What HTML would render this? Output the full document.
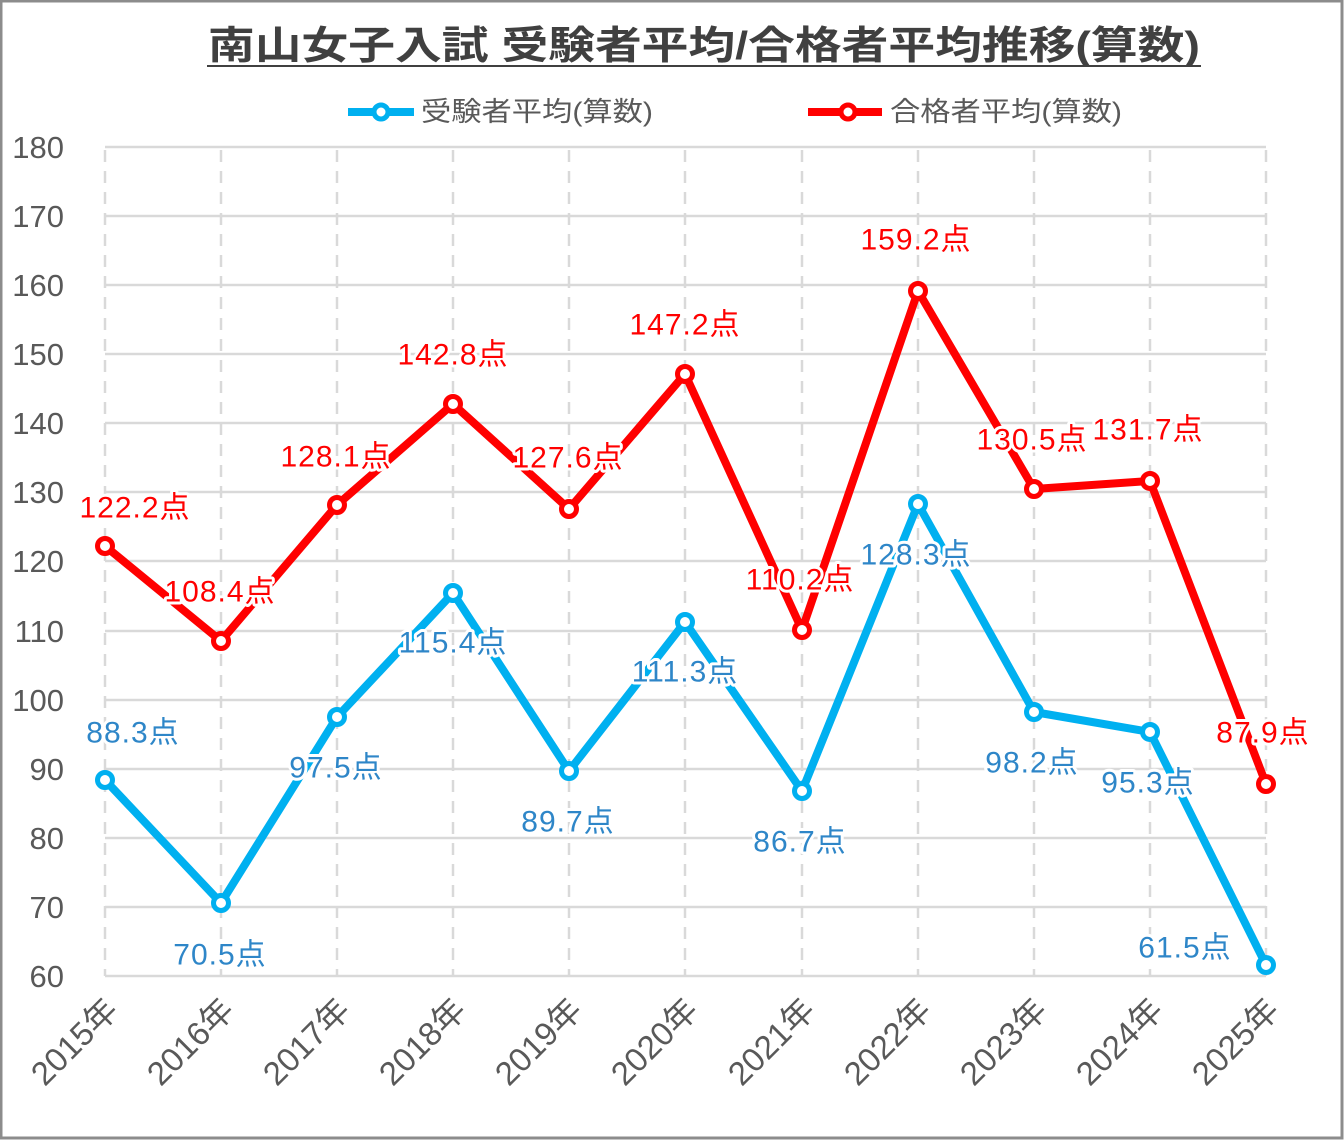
<!DOCTYPE html>
<html><head><meta charset="utf-8"><style>
html,body{margin:0;padding:0;background:#fff}
svg{display:block}
text{font-family:"Liberation Sans","Noto Sans CJK JP",sans-serif}
</style></head><body>
<svg width="1344" height="1140" viewBox="0 0 1344 1140">
<rect x="1" y="1" width="1341" height="1137" fill="#fff" stroke="#8c8c8c" stroke-width="3"/>
<text x="208" y="59" font-size="39" font-weight="bold" fill="#404040" textLength="992" lengthAdjust="spacingAndGlyphs" font-family="'Noto Sans CJK JP',sans-serif">南山女子入試 受験者平均/合格者平均推移(算数)</text>
<line x1="207" y1="66" x2="1201" y2="66" stroke="#404040" stroke-width="2"/>
<g font-size="27" fill="#595959" font-family="'Noto Sans CJK JP',sans-serif">
<line x1="348" y1="112" x2="414" y2="112" stroke="#00b0f0" stroke-width="8"/>
<circle cx="381" cy="112" r="7" fill="#fff" stroke="#00b0f0" stroke-width="5"/>
<text x="421" y="121" textLength="232" lengthAdjust="spacingAndGlyphs">受験者平均(算数)</text>
<line x1="808" y1="112" x2="882" y2="112" stroke="#ff0000" stroke-width="8"/>
<circle cx="848" cy="112" r="7" fill="#fff" stroke="#ff0000" stroke-width="5"/>
<text x="890" y="121" textLength="232" lengthAdjust="spacingAndGlyphs">合格者平均(算数)</text>
</g>
<g stroke="#d9d9d9" stroke-width="2.5">
<line x1="105" y1="147" x2="1266" y2="147"/><line x1="105" y1="216" x2="1266" y2="216"/><line x1="105" y1="285" x2="1266" y2="285"/><line x1="105" y1="354" x2="1266" y2="354"/><line x1="105" y1="423" x2="1266" y2="423"/><line x1="105" y1="492" x2="1266" y2="492"/><line x1="105" y1="561" x2="1266" y2="561"/><line x1="105" y1="631" x2="1266" y2="631"/><line x1="105" y1="700" x2="1266" y2="700"/><line x1="105" y1="769" x2="1266" y2="769"/><line x1="105" y1="838" x2="1266" y2="838"/><line x1="105" y1="907" x2="1266" y2="907"/><line x1="105" y1="976" x2="1266" y2="976"/>
</g>
<g stroke="#d9d9d9" stroke-width="2.5" stroke-dasharray="12,9">
<line x1="105" y1="150" x2="105" y2="976"/><line x1="221" y1="150" x2="221" y2="976"/><line x1="337" y1="150" x2="337" y2="976"/><line x1="453" y1="150" x2="453" y2="976"/><line x1="569" y1="150" x2="569" y2="976"/><line x1="685" y1="150" x2="685" y2="976"/><line x1="802" y1="150" x2="802" y2="976"/><line x1="918" y1="150" x2="918" y2="976"/><line x1="1034" y1="150" x2="1034" y2="976"/><line x1="1150" y1="150" x2="1150" y2="976"/><line x1="1266" y1="150" x2="1266" y2="976"/>
</g>
<g font-size="31" fill="#595959" text-anchor="end">
<text x="64" y="158">180</text><text x="64" y="227">170</text><text x="64" y="296">160</text><text x="64" y="365">150</text><text x="64" y="434">140</text><text x="64" y="503">130</text><text x="64" y="572">120</text><text x="64" y="642">110</text><text x="64" y="711">100</text><text x="64" y="780">90</text><text x="64" y="849">80</text><text x="64" y="918">70</text><text x="64" y="987">60</text>
</g>
<g font-size="33" fill="#595959" text-anchor="end" font-family="'Noto Sans CJK JP',sans-serif">
<text transform="translate(120,1012) rotate(-45)">2015年</text>
<text transform="translate(236,1012) rotate(-45)">2016年</text>
<text transform="translate(352,1012) rotate(-45)">2017年</text>
<text transform="translate(468,1012) rotate(-45)">2018年</text>
<text transform="translate(584,1012) rotate(-45)">2019年</text>
<text transform="translate(700,1012) rotate(-45)">2020年</text>
<text transform="translate(817,1012) rotate(-45)">2021年</text>
<text transform="translate(933,1012) rotate(-45)">2022年</text>
<text transform="translate(1049,1012) rotate(-45)">2023年</text>
<text transform="translate(1165,1012) rotate(-45)">2024年</text>
<text transform="translate(1281,1012) rotate(-45)">2025年</text>
</g>
<polyline fill="none" stroke="#ff0000" stroke-width="8" stroke-linejoin="round" points="105,546 221,641 337,505 453,404 569,509 685,374 802,630 918,291 1034,489 1150,481 1266,784"/>
<polyline fill="none" stroke="#00b0f0" stroke-width="8" stroke-linejoin="round" points="105,780 221,903 337,717 453,593 569,771 685,622 802,791 918,504 1034,712 1150,732 1266,965"/>
<g fill="#fff" stroke-width="5">
<g stroke="#ff0000"><circle cx="105" cy="546" r="7.5"/><circle cx="221" cy="641" r="7.5"/><circle cx="337" cy="505" r="7.5"/><circle cx="453" cy="404" r="7.5"/><circle cx="569" cy="509" r="7.5"/><circle cx="685" cy="374" r="7.5"/><circle cx="802" cy="630" r="7.5"/><circle cx="918" cy="291" r="7.5"/><circle cx="1034" cy="489" r="7.5"/><circle cx="1150" cy="481" r="7.5"/><circle cx="1266" cy="784" r="7.5"/></g>
<g stroke="#00b0f0"><circle cx="105" cy="780" r="7.5"/><circle cx="221" cy="903" r="7.5"/><circle cx="337" cy="717" r="7.5"/><circle cx="453" cy="593" r="7.5"/><circle cx="569" cy="771" r="7.5"/><circle cx="685" cy="622" r="7.5"/><circle cx="802" cy="791" r="7.5"/><circle cx="918" cy="504" r="7.5"/><circle cx="1034" cy="712" r="7.5"/><circle cx="1150" cy="732" r="7.5"/><circle cx="1266" cy="965" r="7.5"/></g>
</g>
<g font-size="30" letter-spacing="1" text-anchor="middle" dominant-baseline="central" stroke="#fff" stroke-width="6" paint-order="stroke" stroke-linejoin="round">
<g fill="#ff0000">
<text x="135" y="508">122.2点</text><text x="220" y="592">108.4点</text><text x="336" y="457">128.1点</text><text x="453" y="355">142.8点</text><text x="568" y="458">127.6点</text><text x="685" y="325">147.2点</text><text x="800" y="580">110.2点</text><text x="916" y="240">159.2点</text><text x="1032" y="440">130.5点</text><text x="1148" y="430">131.7点</text><text x="1263" y="733">87.9点</text>
</g>
<g fill="#2e86c8">
<text x="133" y="733">88.3点</text><text x="220" y="955">70.5点</text><text x="336" y="768">97.5点</text><text x="453" y="643">115.4点</text><text x="568" y="822">89.7点</text><text x="685" y="672">111.3点</text><text x="800" y="842">86.7点</text><text x="916" y="555">128.3点</text><text x="1032" y="763">98.2点</text><text x="1148" y="783">95.3点</text><text x="1185" y="948">61.5点</text>
</g>
</g>
</svg>
</body></html>
